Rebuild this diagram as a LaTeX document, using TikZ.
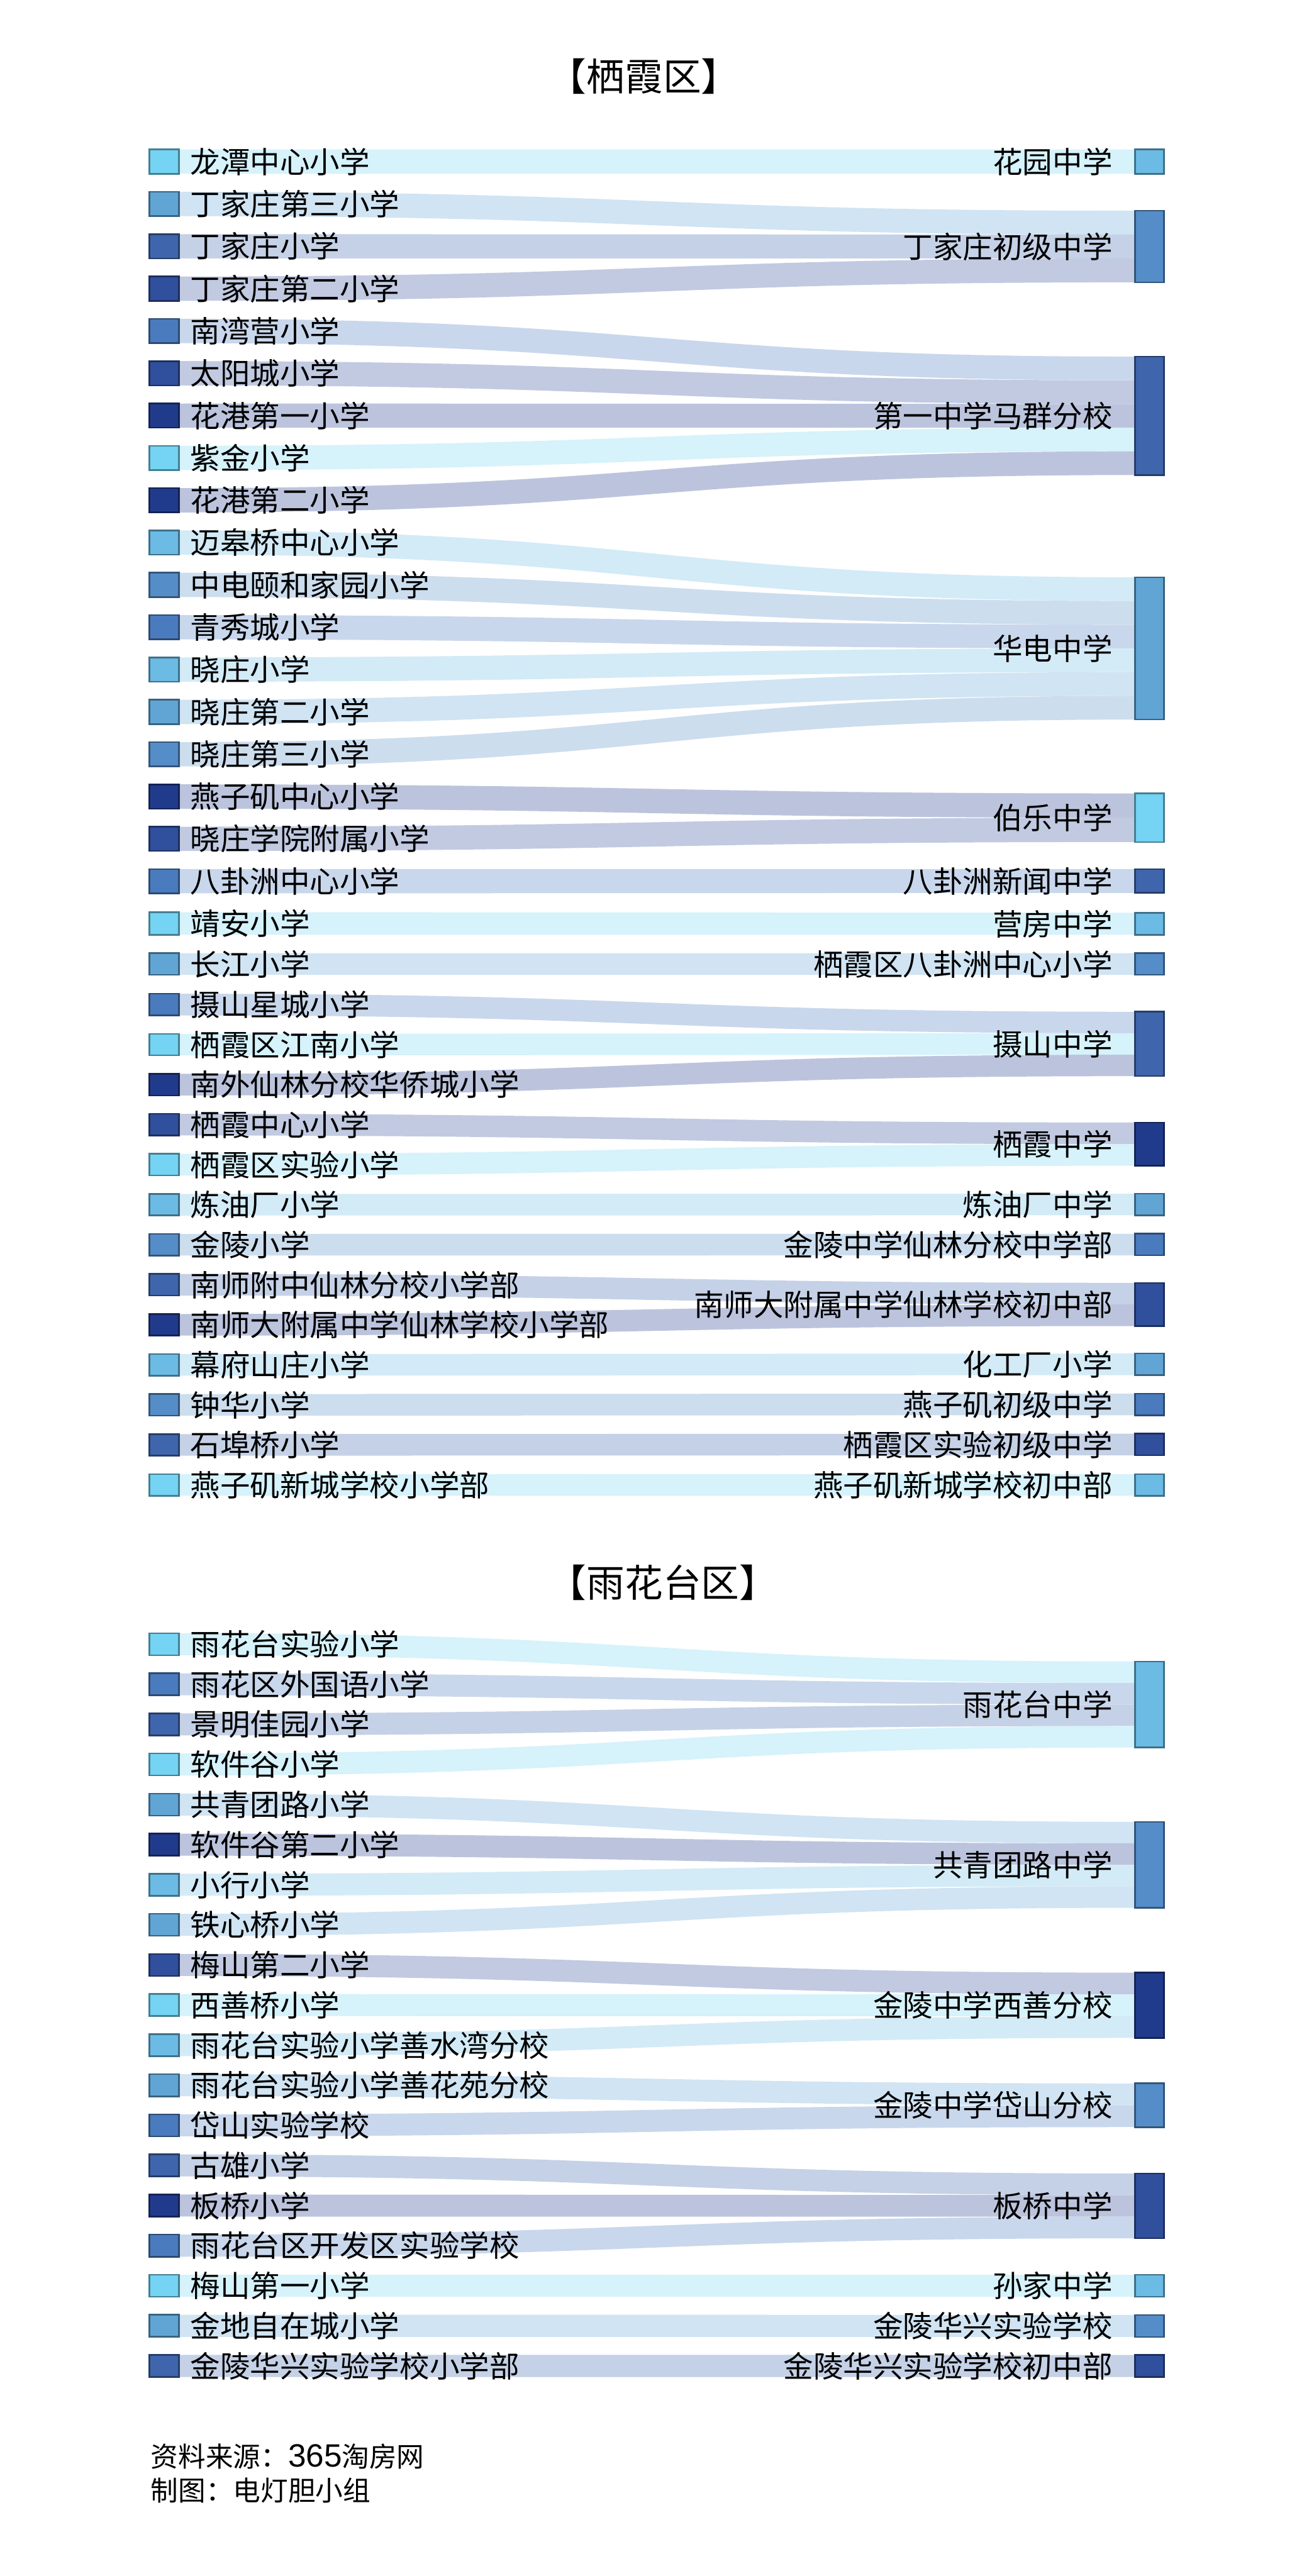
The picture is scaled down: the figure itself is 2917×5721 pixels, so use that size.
\documentclass[tikz,border=0pt]{standalone}
\usepackage{fontspec}
\setmainfont{Noto Sans CJK SC}
\newfontfamily\digitfont{Liberation Sans}
\usetikzlibrary{calc,backgrounds}
\definecolor{C1}{HTML}{75D3F3}
\definecolor{C2}{HTML}{6BBBE5}
\definecolor{C3}{HTML}{61A5D5}
\definecolor{C4}{HTML}{558DC8}
\definecolor{C5}{HTML}{4A7BBE}
\definecolor{C6}{HTML}{3F65AC}
\definecolor{C7}{HTML}{304F9C}
\definecolor{C8}{HTML}{213B8C}
\newcommand\bandfill[5]{%
  \fill[#5!30!white] (#1.north east) .. controls +(1061,0) and +(-1061,0) ..
    ($(#2.north west)!{(#3-1)/#4}!(#2.south west)$) --
    ($(#2.north west)!{#3/#4}!(#2.south west)$) .. controls +(-1061,0) and +(1061,0) ..
    (#1.south east) -- cycle;}
\begin{document}
\begin{tikzpicture}[x=0.25pt,y=-0.25pt,
  box/.style={rectangle, inner sep=0pt, outer sep=0pt, minimum width=16.25pt, line width=0.9pt},
  lab/.style={inner sep=0pt, text=black, font=\fontsize{16.6}{18}\selectfont},
  ttl/.style={inner sep=0pt, anchor=west, text=black, font=\fontsize{21.2}{24}\selectfont},
  foot/.style={inner sep=0pt, anchor=west, text=black, font=\fontsize{15.25}{18}\selectfont}]
\useasboundingbox (0,0) rectangle (2917,5721);

% titles
\node[ttl] (T1) at (1217,169) {【栖霞区】};
\node[ttl] (T2) at (1217,3515) {【雨花台区】};

% ===== Qixia left nodes =====
\foreach \i/\c/\t in {1/C1/龙潭中心小学, 2/C3/丁家庄第三小学, 3/C6/丁家庄小学, 4/C7/丁家庄第二小学,
  5/C5/南湾营小学, 6/C7/太阳城小学, 7/C8/花港第一小学, 8/C1/紫金小学, 9/C8/花港第二小学,
  10/C2/迈皋桥中心小学, 11/C4/中电颐和家园小学, 12/C5/青秀城小学, 13/C2/晓庄小学,
  14/C3/晓庄第二小学, 15/C4/晓庄第三小学, 16/C8/燕子矶中心小学, 17/C7/晓庄学院附属小学,
  18/C5/八卦洲中心小学}{
  \pgfmathsetmacro\cy{332+94*(\i-1)+27}
  \node[box, minimum height=13.5pt, fill=\c, draw=\c!60!black] (L\i) at (364.5,\cy) {};
  \node[lab, anchor=west] (Lt\i) at (422,\cy) {\t};
}
\node[box, minimum height=12.5pt, fill=C1, draw=C1!60!black] (L19) at (364.5,2051) {};
\node[lab, anchor=west] (Lt19) at (422,2051) {靖安小学};
\node[box, minimum height=12pt, fill=C3, draw=C3!60!black] (L20) at (364.5,2141) {};
\node[lab, anchor=west] (Lt20) at (422,2141) {长江小学};
\foreach \i/\c/\t in {21/C5/摄山星城小学, 22/C1/栖霞区江南小学, 23/C8/南外仙林分校华侨城小学,
  24/C7/栖霞中心小学, 25/C1/栖霞区实验小学, 26/C2/炼油厂小学, 27/C4/金陵小学,
  28/C6/南师附中仙林分校小学部, 29/C8/南师大附属中学仙林学校小学部, 30/C2/幕府山庄小学,
  31/C4/钟华小学, 32/C6/石埠桥小学, 33/C1/燕子矶新城学校小学部}{
  \pgfmathsetmacro\cy{2207+88.9*(\i-21)+24}
  \node[box, minimum height=12pt, fill=\c, draw=\c!60!black] (L\i) at (364.5,\cy) {};
  \node[lab, anchor=west] (Lt\i) at (422,\cy) {\t};
}

% ===== Qixia right nodes =====
\foreach \i/\top/\h/\c/\t in {1/332/54/C2/花园中学, 2/468/159/C4/丁家庄初级中学,
  3/792/263/C6/第一中学马群分校, 4/1282/316/C3/华电中学, 5/1762/108/C1/伯乐中学,
  6/1930/53/C6/八卦洲新闻中学, 7/2027/49/C2/营房中学, 8/2117/48/C4/栖霞区八卦洲中心小学,
  9/2247/143/C6/摄山中学, 10/2493/96/C8/栖霞中学, 11/2651/48/C3/炼油厂中学,
  12/2740/48/C5/金陵中学仙林分校中学部, 13/2849/96/C7/南师大附属中学仙林学校初中部,
  14/3006/48/C3/化工厂小学, 15/3095/48/C5/燕子矶初级中学, 16/3184/48/C7/栖霞区实验初级中学,
  17/3274/48/C2/燕子矶新城学校初中部}{
  \pgfmathsetmacro\cy{\top+\h/2}
  \pgfmathsetmacro\hh{\h*0.25}
  \node[box, minimum height=\hh pt, fill=\c, draw=\c!60!black] (R\i) at (2552.5,\cy) {};
  \node[lab, anchor=east] (Rt\i) at (2471,\cy) {\t};
}

% ===== Yuhuatai left nodes =====
\foreach \i/\c/\t in {1/C1/雨花台实验小学, 2/C5/雨花区外国语小学, 3/C6/景明佳园小学, 4/C1/软件谷小学,
  5/C3/共青团路小学, 6/C8/软件谷第二小学, 7/C2/小行小学, 8/C3/铁心桥小学, 9/C7/梅山第二小学,
  10/C1/西善桥小学, 11/C2/雨花台实验小学善水湾分校, 12/C3/雨花台实验小学善花苑分校,
  13/C5/岱山实验学校, 14/C6/古雄小学, 15/C8/板桥小学, 16/C5/雨花台区开发区实验学校,
  17/C1/梅山第一小学, 18/C3/金地自在城小学, 19/C6/金陵华兴实验学校小学部}{
  \pgfmathsetmacro\cy{3627+89.05*(\i-1)+24.5}
  \node[box, minimum height=12.25pt, fill=\c, draw=\c!60!black] (Y\i) at (364.5,\cy) {};
  \node[lab, anchor=west] (Yt\i) at (422,\cy) {\t};
}

% ===== Yuhuatai right nodes =====
\foreach \i/\top/\h/\c/\t in {1/3690/191/C2/雨花台中学, 2/4046/191/C4/共青团路中学,
  3/4381/145/C8/金陵中学西善分校, 4/4627/97/C4/金陵中学岱山分校, 5/4827/144/C7/板桥中学,
  6/5052/49/C2/孙家中学, 7/5141/49/C4/金陵华兴实验学校, 8/5230/49/C7/金陵华兴实验学校初中部}{
  \pgfmathsetmacro\cy{\top+\h/2}
  \pgfmathsetmacro\hh{\h*0.25}
  \node[box, minimum height=\hh pt, fill=\c, draw=\c!60!black] (S\i) at (2552.5,\cy) {};
  \node[lab, anchor=east] (St\i) at (2471,\cy) {\t};
}

% footer
\node[foot] (F1) at (334,5455) {资料来源：{\digitfont\fontsize{17.9}{18}\selectfont 365}淘房网};
\node[foot] (F2) at (334,5531) {制图：电灯胆小组};

% ===== bands =====
\begin{pgfonlayer}{background}
\fill[white] (0,0) rectangle (2917,5721);
\foreach \l/\r/\k/\n/\c in {1/1/1/1/C1,
  2/2/1/3/C3, 3/2/2/3/C6, 4/2/3/3/C7,
  5/3/1/5/C5, 6/3/2/5/C7, 7/3/3/5/C8, 8/3/4/5/C1, 9/3/5/5/C8,
  10/4/1/6/C2, 11/4/2/6/C4, 12/4/3/6/C5, 13/4/4/6/C2, 14/4/5/6/C3, 15/4/6/6/C4,
  16/5/1/2/C8, 17/5/2/2/C7, 18/6/1/1/C5, 19/7/1/1/C1, 20/8/1/1/C3,
  21/9/1/3/C5, 22/9/2/3/C1, 23/9/3/3/C8, 24/10/1/2/C7, 25/10/2/2/C1,
  26/11/1/1/C2, 27/12/1/1/C4, 28/13/1/2/C6, 29/13/2/2/C8,
  30/14/1/1/C2, 31/15/1/1/C4, 32/16/1/1/C6, 33/17/1/1/C1}{
  \bandfill{L\l}{R\r}{\k}{\n}{\c}
}
\foreach \l/\r/\k/\n/\c in {1/1/1/4/C1, 2/1/2/4/C5, 3/1/3/4/C6, 4/1/4/4/C1,
  5/2/1/4/C3, 6/2/2/4/C8, 7/2/3/4/C2, 8/2/4/4/C3,
  9/3/1/3/C7, 10/3/2/3/C1, 11/3/3/3/C2, 12/4/1/2/C3, 13/4/2/2/C5,
  14/5/1/3/C6, 15/5/2/3/C8, 16/5/3/3/C5, 17/6/1/1/C1, 18/7/1/1/C3, 19/8/1/1/C6}{
  \bandfill{Y\l}{S\r}{\k}{\n}{\c}
}
\end{pgfonlayer}
\end{tikzpicture}
\end{document}
